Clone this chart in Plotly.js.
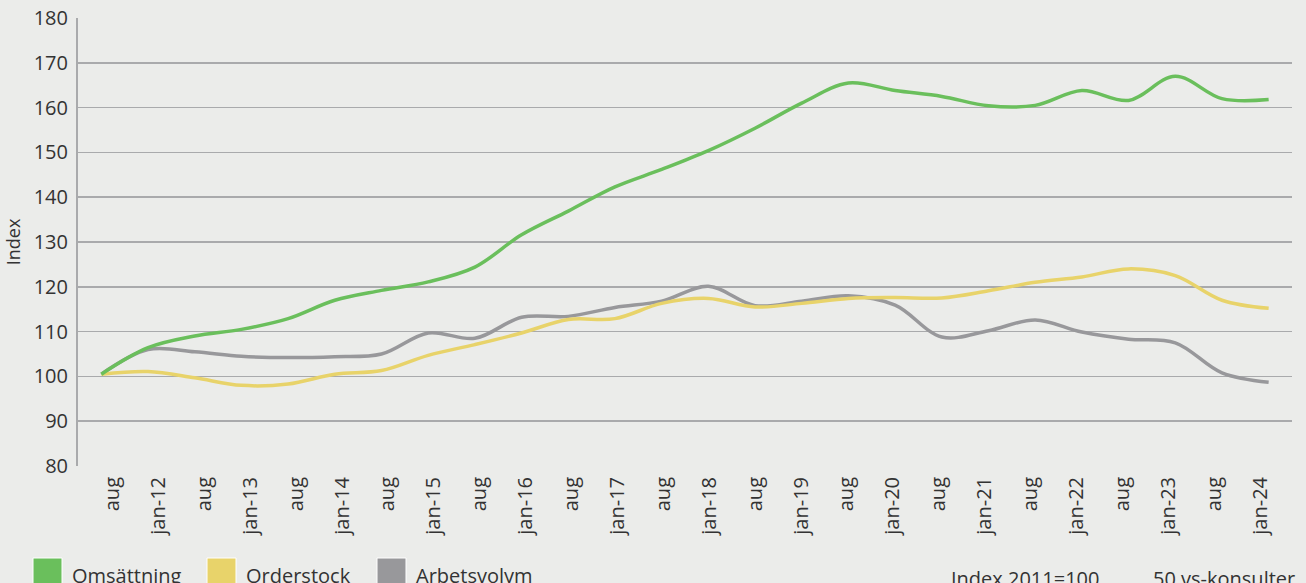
<!DOCTYPE html>
<html>
<head>
<meta charset="utf-8">
<script src="https://cdn.plot.ly/plotly-3.0.1.min.js"></script>
<style>
  html, body { margin: 0; padding: 0; background: #ebecea; }
  #chart { width: 1306px; height: 583px; }
</style>
</head>
<body>
<div id="chart"></div>
<script>
// ---- data ----
const periods = ['aug-11','jan-12','aug-12','jan-13','aug-13','jan-14','aug-14','jan-15','aug-15','jan-16','aug-16','jan-17','aug-17','jan-18','aug-18','jan-19','aug-19','jan-20','aug-20','jan-21','aug-21','jan-22','aug-22','jan-23','aug-23','jan-24'];
const tickLabels = ['aug','jan-12','aug','jan-13','aug','jan-14','aug','jan-15','aug','jan-16','aug','jan-17','aug','jan-18','aug','jan-19','aug','jan-20','aug','jan-21','aug','jan-22','aug','jan-23','aug','jan-24'];
const omsattning = [100.5, 106.4, 109.0, 110.5, 112.9, 117.0, 119.2, 121.1, 124.4, 131.6, 136.9, 142.3, 146.2, 150.4, 155.4, 161.0, 165.5, 163.8, 162.5, 160.4, 160.5, 163.8, 161.6, 167.0, 162.0, 161.8];
const orderstock = [100.5, 101.1, 99.7, 98.0, 98.3, 100.5, 101.3, 104.7, 107.1, 109.7, 112.7, 112.9, 116.3, 117.4, 115.5, 116.3, 117.4, 117.6, 117.5, 119.1, 121.0, 122.2, 124.0, 122.5, 117.0, 115.2];
const arbetsvolym = [100.5, 106.0, 105.5, 104.5, 104.2, 104.4, 105.0, 109.7, 108.5, 113.2, 113.4, 115.4, 116.8, 120.1, 115.8, 116.8, 118.0, 115.9, 108.8, 110.2, 112.6, 109.9, 108.3, 107.5, 100.8, 98.7];
const seriesNames = ['Omsättning', 'Orderstock', 'Arbetsvolym'];
const seriesColors = ['#6abf5c', '#e8d36a', '#98989b'];
const yTicks = [80, 90, 100, 110, 120, 130, 140, 150, 160, 170, 180];
const footnotes = ['Index 2011=100', '50 vs-konsulter'];

// ---- layout helpers ----
const W = 1306, H = 583;
const M = {l: 78, r: 14, t: 18, b: 117};
const pw = W - M.l - M.r, ph = H - M.t - M.b;
const px2x = x => (x - M.l) / pw;
const px2y = y => (H - M.b - y) / ph;
const FONT = '"Open Sans", Lato, sans-serif';
const TXT = '#333333';

// tick label placement (labels in the original sit slightly off the data points)
const tickPos = tickLabels.map((_, k) => 0.24 + 0.983 * k);

const seriesData = [omsattning, orderstock, arbetsvolym];
const drawOrder = [2, 1, 0];
const traces = drawOrder.map(i => ({
  type: 'scatter', mode: 'lines', name: seriesNames[i],
  x: periods, y: seriesData[i],
  line: {color: seriesColors[i], width: 3.5, shape: 'spline', smoothing: 1},
  hoverinfo: 'x+y+name'
}));

const shapes = [], annotations = [];
const legendPos = [33, 207, 377];
seriesNames.forEach((n, i) => {
  const x0 = legendPos[i];
  shapes.push({type: 'rect', xref: 'paper', yref: 'paper',
    x0: px2x(x0), x1: px2x(x0 + 29), y0: px2y(558), y1: px2y(590),
    fillcolor: seriesColors[i], line: {width: 1, color: '#ffffff'}});
  annotations.push({xref: 'paper', yref: 'paper', x: px2x(x0 + 37), y: px2y(575),
    xanchor: 'left', yanchor: 'middle', showarrow: false, text: n,
    font: {family: FONT, size: 20, color: TXT}});
});
annotations.push({xref: 'paper', yref: 'paper', x: px2x(949), y: px2y(578),
  xanchor: 'left', yanchor: 'middle', showarrow: false, text: footnotes[0],
  font: {family: FONT, size: 20, color: TXT}});
annotations.push({xref: 'paper', yref: 'paper', x: px2x(1297), y: px2y(578),
  xanchor: 'right', yanchor: 'middle', showarrow: false, text: footnotes[1],
  font: {family: FONT, size: 20, color: TXT}});

const layout = {
  width: W, height: H,
  margin: M,
  paper_bgcolor: '#ebecea', plot_bgcolor: '#ebecea',
  showlegend: false,
  font: {family: FONT, color: TXT},
  xaxis: {
    type: 'category', range: [-0.5, periods.length - 0.5],
    tickmode: 'array', tickvals: tickPos, ticktext: tickLabels,
    tickangle: -90, ticks: '', showgrid: false, zeroline: false, showline: false,
    ticklabelstandoff: 6,
    tickfont: {family: FONT, size: 20, color: TXT}
  },
  yaxis: {
    range: [80, 180], tickvals: yTicks, ticks: '',
    showgrid: true, gridcolor: '#a9aaac', gridwidth: 1.6,
    showline: true, linecolor: '#a9aaac', linewidth: 2,
    zeroline: false, ticklabelstandoff: 4,
    tickfont: {family: FONT, size: 20, color: TXT},
    title: {text: 'Index', standoff: 8, font: {family: FONT, size: 18, color: TXT}}
  },
  shapes, annotations
};

Plotly.newPlot('chart', traces, layout, {displayModeBar: false, staticPlot: true});
</script>
</body>
</html>
